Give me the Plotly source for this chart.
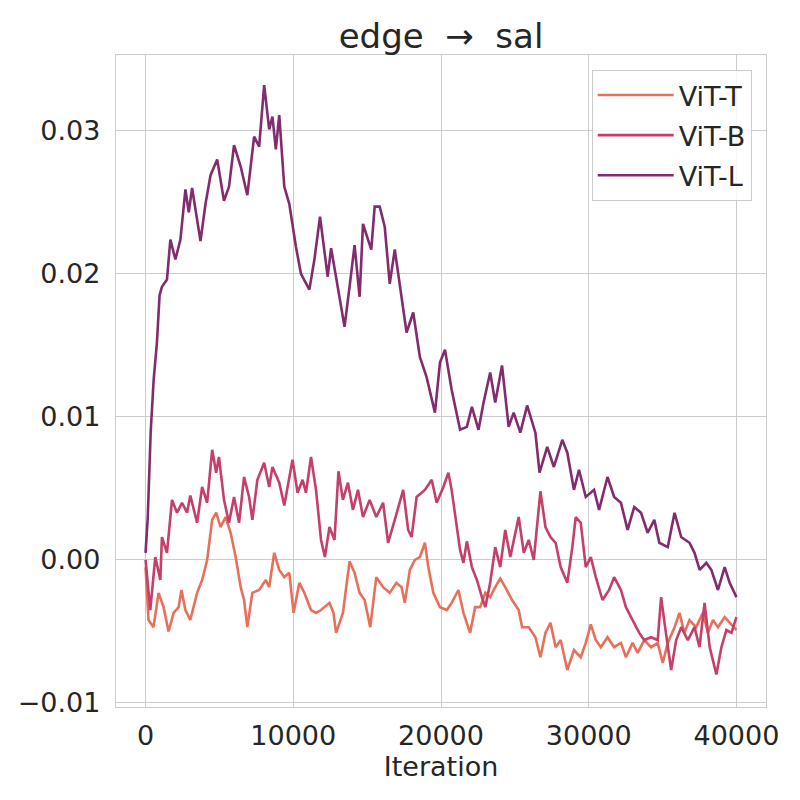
import plotly.graph_objects as go

# ---- data ----
t_iter = [0, 200, 540, 880, 1220, 1560, 1900, 2240, 2430, 2700, 3030, 3490, 3830, 4170, 4510, 4780, 5080, 5420, 5760, 6100,
          6440, 6670, 6890, 7230, 7690, 8140, 8370, 8710, 9050, 9390, 9730, 10020, 10410, 10750, 11200, 11540, 11880, 12450,
          12720, 12900, 13360, 13810, 14150, 14490, 14830, 15210, 15620, 16080, 16530, 16980, 17330, 17550, 17890, 18230,
          18570, 18910, 19140, 19480, 19930, 20390, 20720, 21180, 21520, 21970, 22310, 22650, 23000, 23330, 23670, 24010,
          24350, 24810, 25260, 25490, 25940, 26390, 26730, 27070, 27410, 27760, 28100, 28550, 29000, 29460, 29800, 30140,
          30480, 30820, 31270, 31720, 32180, 32520, 32970, 33310, 33760, 34220, 34670, 35010, 35350, 35810, 36140, 36480,
          36820, 37270, 37730, 38070, 38410, 38750, 39200, 39540, 40000]
t_val = [-0.0005, -0.0042, -0.0047, -0.0023, -0.0033, -0.0050, -0.0037, -0.0033, -0.0021, -0.0035, -0.0042, -0.0023, -0.0014,
         0.0000, 0.0028, 0.0033, 0.0023, 0.0030, 0.0019, 0.0002, -0.0019, -0.0028, -0.0047, -0.0023, -0.0021, -0.0014, -0.0019,
         0.0005, -0.0007, -0.0012, -0.0009, -0.0037, -0.0016, -0.0023, -0.0035, -0.0037, -0.0035, -0.0030, -0.0037, -0.0051,
         -0.0037, -0.0001, -0.0009, -0.0023, -0.0028, -0.0047, -0.0012, -0.0019, -0.0023, -0.0016, -0.0019, -0.0030, -0.0007,
         0.0000, 0.0002, 0.0012, -0.0005, -0.0023, -0.0033, -0.0035, -0.0030, -0.0021, -0.0037, -0.0051, -0.0033, -0.0033,
         -0.0023, -0.0026, -0.0019, -0.0013, -0.0019, -0.0028, -0.0035, -0.0047, -0.0047, -0.0054, -0.0068, -0.0051, -0.0044,
         -0.0061, -0.0056, -0.0077, -0.0063, -0.0068, -0.0058, -0.0045, -0.0056, -0.0061, -0.0054, -0.0061, -0.0058, -0.0068,
         -0.0058, -0.0065, -0.0056, -0.0061, -0.0058, -0.0072, -0.0058, -0.0047, -0.0037, -0.0051, -0.0042, -0.0047, -0.0037,
         -0.0051, -0.0042, -0.0047, -0.0040, -0.0044, -0.0049]

b_iter = [0, 320, 660, 1000, 1110, 1450, 1790, 2130, 2470, 2810, 3030, 3490, 3830, 4170, 4510, 4780, 4970, 5310, 5650, 5990,
          6330, 6670, 7010, 7230, 7570, 8030, 8370, 8590, 9050, 9390, 9950, 10290, 10630, 10860, 11200, 11540, 11880, 12140,
          12450, 12790, 13060, 13360, 13700, 14040, 14380, 14720, 15170, 15620, 16080, 16420, 16870, 17440, 17780, 18010,
          18350, 18910, 19370, 19710, 20160, 20500, 20720, 20950, 21290, 21520, 21750, 22090, 22430, 22770, 23000, 23330,
          23670, 24010, 24350, 24690, 25260, 25600, 25940, 26280, 26730, 27070, 27410, 27760, 28100, 28550, 28890, 29120,
          29460, 29800, 30140, 30480, 30930, 31380, 31720, 32180, 32520, 32970, 33420, 33760, 34220, 34670, 34900, 35170,
          35580, 35920, 36260, 36710, 37160, 37500, 37840, 38190, 38640, 38980, 39320, 39660, 40000]
b_val = [0.0000, -0.0035, 0.0002, -0.0014, 0.0016, 0.0005, 0.0042, 0.0033, 0.0040, 0.0033, 0.0045, 0.0026, 0.0051, 0.0040,
         0.0077, 0.0061, 0.0072, 0.0042, 0.0026, 0.0044, 0.0026, 0.0058, 0.0044, 0.0028, 0.0056, 0.0068, 0.0051, 0.0065,
         0.0054, 0.0038, 0.0070, 0.0047, 0.0056, 0.0047, 0.0072, 0.0049, 0.0014, 0.0002, 0.0023, 0.0014, 0.0062, 0.0042,
         0.0054, 0.0035, 0.0049, 0.0030, 0.0042, 0.0030, 0.0040, 0.0012, 0.0028, 0.0049, 0.0021, 0.0016, 0.0044, 0.0049,
         0.0056, 0.0040, 0.0051, 0.0061, 0.0049, 0.0033, 0.0007, -0.0002, 0.0013, -0.0005, -0.0014, -0.0026, -0.0033, -0.0016,
         0.0009, -0.0005, 0.0021, 0.0002, 0.0030, 0.0005, 0.0014, 0.0000, 0.0048, 0.0023, 0.0016, 0.0012, -0.0005, -0.0016,
         0.0009, 0.0030, 0.0026, -0.0005, 0.0002, -0.0012, -0.0028, -0.0021, -0.0012, -0.0021, -0.0033, -0.0042, -0.0051,
         -0.0056, -0.0054, -0.0056, -0.0026, -0.0047, -0.0077, -0.0056, -0.0047, -0.0056, -0.0047, -0.0061, -0.0030, -0.0061,
         -0.0080, -0.0061, -0.0049, -0.0051, -0.0040]

l_iter = [0, 150, 350, 550, 770, 950, 1110, 1450, 1680, 2020, 2360, 2700, 2925, 3150, 3720, 4060, 4400, 4850, 5310, 5650,
          5990, 6440, 6890, 7350, 7690, 8030, 8370, 8590, 8820, 9050, 9390, 9730, 10180, 10520, 11090, 11430, 11810, 12330,
          12560, 13010, 13470, 13810, 14150, 14490, 14720, 15060, 15280, 15510, 15850, 16190, 16530, 16870, 17210, 17440,
          17670, 18120, 18570, 19020, 19590, 19930, 20270, 20720, 21290, 21750, 22090, 22540, 22880, 23330, 23670, 24130,
          24580, 24920, 25370, 25830, 26390, 26670, 27190, 27640, 28210, 28550, 29000, 29340, 29800, 30360, 30700, 31270,
          31720, 32180, 32630, 33080, 33540, 33990, 34440, 34780, 35350, 35810, 36260, 36820, 37160, 37510, 37960, 38300,
          38750, 39200, 39540, 40000]
l_val = [0.0005, 0.0030, 0.0090, 0.0126, 0.0152, 0.0185, 0.0191, 0.0196, 0.0224, 0.0210, 0.0224, 0.0259, 0.0243, 0.0260,
         0.0223, 0.0249, 0.0269, 0.0280, 0.0251, 0.0261, 0.0290, 0.0275, 0.0255, 0.0296, 0.0289, 0.0332, 0.0301, 0.0310,
         0.0287, 0.0311, 0.0261, 0.0249, 0.0219, 0.0200, 0.0189, 0.0210, 0.0240, 0.0198, 0.0218, 0.0191, 0.0163, 0.0191,
         0.0220, 0.0184, 0.0235, 0.0224, 0.0217, 0.0247, 0.0247, 0.0233, 0.0193, 0.0217, 0.0191, 0.0177, 0.0159, 0.0173,
         0.0142, 0.0128, 0.0103, 0.0138, 0.0147, 0.0119, 0.0091, 0.0093, 0.0107, 0.0091, 0.0110, 0.0131, 0.0110, 0.0136,
         0.0093, 0.0103, 0.0089, 0.0108, 0.0089, 0.0061, 0.0079, 0.0065, 0.0084, 0.0075, 0.0049, 0.0063, 0.0044, 0.0049,
         0.0035, 0.0058, 0.0044, 0.0040, 0.0021, 0.0037, 0.0033, 0.0019, 0.0028, 0.0012, 0.0009, 0.0033, 0.0016, 0.0012,
         0.0005, -0.0007, -0.0002, -0.0007, -0.0021, -0.0005, -0.0016, -0.0026]

series_names = ["ViT-T", "ViT-B", "ViT-L"]
series_colors = ["#e7705b", "#c53f68", "#822b6f"]

x_ticks = [0, 10000, 20000, 30000, 40000]
y_ticks = [-0.01, 0.0, 0.01, 0.02, 0.03]
y_tick_text = ["\u22120.01", "0.00", "0.01", "0.02", "0.03"]

FONT = "DejaVu Sans"
TXT = "#262626"
GRID = "#cccccc"

fig = go.Figure()
for name, xs, ys, col in zip(series_names, [t_iter, b_iter, l_iter], [t_val, b_val, l_val], series_colors):
    fig.add_trace(go.Scatter(x=xs, y=ys, mode="lines", name=name, legendgroup=name,
                             line=dict(color=col, width=2.6)))

# page body has an 8px default margin: figure is 792x792 so plot area sits at 116..766 / 55..707
fig.update_layout(
    width=792, height=792,
    paper_bgcolor="white", plot_bgcolor="white",
    margin=dict(l=108, r=34, t=47, b=93, autoexpand=False),
    title=dict(text="edge\u00a0\u00a0\u2192\u00a0\u00a0sal", x=0.5467, xanchor="center", y=0.9646, yanchor="middle",
               font=dict(family=FONT, size=34, color=TXT)),
    font=dict(family=FONT, color=TXT),
    legend=dict(x=0.978, xanchor="right", y=0.977, yanchor="top",
                bgcolor="rgba(255,255,255,0.8)", bordercolor=GRID, borderwidth=1,
                font=dict(family=FONT, size=27, color=TXT), itemwidth=76,
                tracegroupgap=2),
    showlegend=True,
)
fig.update_xaxes(range=[-2000, 42000], tickvals=x_ticks, ticktext=[str(v) for v in x_ticks],
                 automargin=False,
                 showgrid=True, gridcolor=GRID, gridwidth=1, zeroline=False,
                 showline=True, linecolor=GRID, linewidth=1.3, mirror=True,
                 ticks="", ticklabelstandoff=4,
                 tickfont=dict(family=FONT, size=27, color=TXT),
                 title=dict(text="Iteration", font=dict(family=FONT, size=27, color=TXT), standoff=2))
fig.update_yaxes(range=[-0.01028, 0.0353], tickvals=y_ticks, ticktext=y_tick_text,
                 automargin=False,
                 showgrid=True, gridcolor=GRID, gridwidth=1, zeroline=False,
                 showline=True, linecolor=GRID, linewidth=1.3, mirror=True,
                 ticks="", ticklabelstandoff=9,
                 tickfont=dict(family=FONT, size=27, color=TXT))

fig.write_html("out.html")
